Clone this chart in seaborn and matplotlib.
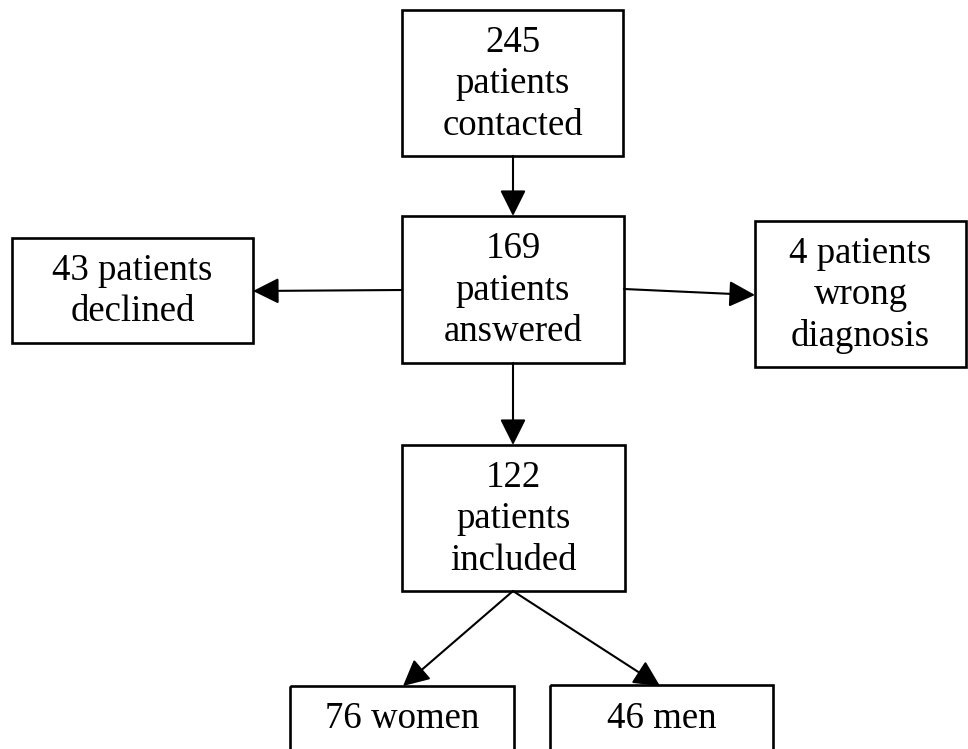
import seaborn as sns
import matplotlib.pyplot as plt
from matplotlib.patches import Rectangle

# flow counts and wording of each step
steps = ["contacted", "answered", "declined", "wrong", "included", "women", "men"]
counts = [245, 169, 43, 4, 122, 76, 46]
labels = ["{}\npatients\ncontacted", "{}\npatients\nanswered", "{} patients\ndeclined",
          "{} patients\nwrong\ndiagnosis", "{}\npatients\nincluded", "{} women", "{} men"]
edges = [("contacted", "answered"), ("answered", "declined"), ("answered", "wrong"),
         ("answered", "included"), ("included", "women"), ("included", "men")]

# layout in pixels (x0, y0, x1, y1), y going down
boxes = {
    "contacted": (402, 10, 623, 156),
    "answered": (402, 216, 624, 363),
    "declined": (12, 238, 253, 343),
    "wrong": (755, 221, 966, 367),
    "included": (402, 445, 625, 591),
    "women": (290, 686, 514, 800),
    "men": (550, 685, 773, 800),
}
text_y = {"women": 719, "men": 719}
arrow_xy = {
    ("contacted", "answered"): ((513, 156), (513, 216)),
    ("answered", "declined"): ((402, 290), (253, 291)),
    ("answered", "wrong"): ((624, 289), (755, 295)),
    ("answered", "included"): ((513, 363), (513, 445)),
    ("included", "women"): ((513, 591), (403, 686)),
    ("included", "men"): ((513, 591), (660, 686)),
}

sns.set_theme(style="white")
plt.rcParams['font.family'] = ['Liberation Serif', 'DejaVu Serif']

fig = plt.figure(figsize=(9.68, 7.49), dpi=100)
ax = fig.add_axes([0, 0, 1, 1])
ax.set_xlim(0, 968)
ax.set_ylim(749, 0)
ax.axis('off')

for step, n, lab in zip(steps, counts, labels):
    x0, y0, x1, y1 = boxes[step]
    ax.add_patch(Rectangle((x0, y0), x1 - x0, y1 - y0, fill=False,
                           edgecolor='black', linewidth=1.9))
    cy = text_y.get(step, (y0 + y1) / 2 + 1)
    ax.text((x0 + x1) / 2, cy, lab.format(n), ha='center', va='center',
            fontsize=26.5, linespacing=1.26, color='black')

for a, b in edges:
    start, end = arrow_xy[(a, b)]
    ax.annotate("", xy=end, xytext=start,
                arrowprops=dict(arrowstyle='-|>,head_length=0.4,head_width=0.2',
                                mutation_scale=40, color='black', lw=1.5,
                                shrinkA=0, shrinkB=0))

plt.savefig("out.png", dpi=100, facecolor='white')
